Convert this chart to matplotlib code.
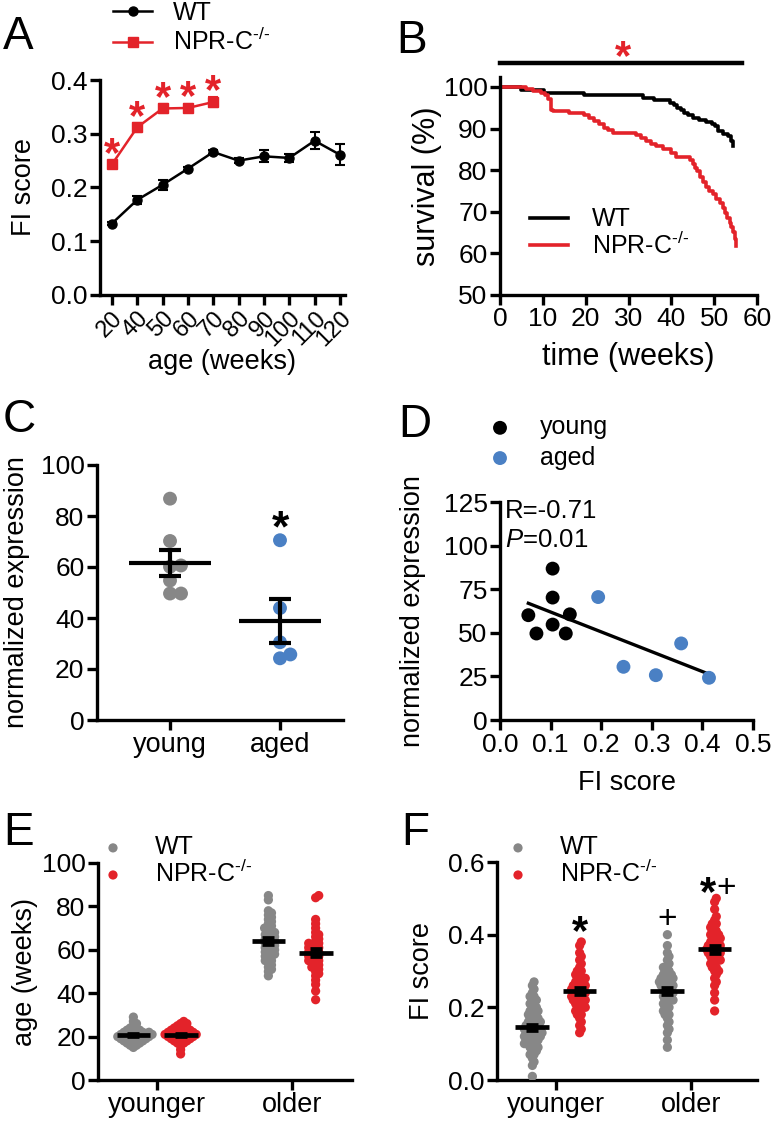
import numpy as np
import matplotlib.pyplot as plt

plt.rcParams['font.family'] = ['Liberation Sans', 'DejaVu Sans']
plt.rcParams['mathtext.fontset'] = 'custom'
plt.rcParams['mathtext.rm'] = 'Liberation Sans'
plt.rcParams['mathtext.it'] = 'Liberation Sans:italic'

RED = '#e3232a'
GRAY = '#878787'
BLUE = '#4a80c4'
KO = 'NPR-C$^{\u2010/\u2010}$'

# ---- panel A: FI score vs age
age_labels = ['20', '40', '50', '60', '70', '80', '90', '100', '110', '120']
wt_fi = [0.133, 0.177, 0.205, 0.235, 0.266, 0.250, 0.258, 0.255, 0.287, 0.261]
wt_fi_err = [0.003, 0.008, 0.009, 0.003, 0.003, 0.005, 0.011, 0.008, 0.016, 0.019]
ko_fi = [0.243, 0.312, 0.347, 0.348, 0.359]
ko_fi_err = [0.004, 0.008, 0.009, 0.007, 0.010]

# ---- panel B: survival curves (step times in weeks, survival %)
wt_t = [0, 4.8, 10.3, 19.7, 33.3, 36.0, 39.6, 40.6, 41.4, 42.2, 43.0, 44.0,
        45.0, 46.5, 48.0, 49.5, 50.3, 51.0, 52.0, 53.2, 54.0, 54.5]
wt_s = [100, 99.2, 98.6, 98.0, 97.4, 96.8, 96.2, 95.6, 95.0, 94.4, 93.8, 93.2,
        92.6, 92.0, 91.6, 91.2, 90.6, 89.5, 88.7, 88.2, 87.0, 85.7]
ko_t = [0, 6.0, 7.6, 9.5, 10.5, 11.3, 12.0, 12.4, 16.2, 19.7, 20.8, 22.0, 23.2,
        24.3, 25.3, 26.3, 31.8, 33.0, 34.2, 35.3, 36.5, 38.0, 40.0, 41.0, 44.3,
        45.0, 45.6, 46.0, 46.8, 47.5, 48.2, 48.9, 49.7, 50.5, 51.3, 52.0, 52.6,
        53.1, 53.6, 54.0, 54.4, 54.8, 55.0]
ko_s = [100, 99.5, 99.0, 98.5, 98.0, 97.2, 94.4, 94.2, 93.7, 93.3, 92.6, 91.8,
        91.0, 90.2, 89.6, 89.0, 88.5, 87.8, 87.0, 86.3, 85.8, 85.0, 84.2, 83.2,
        82.4, 81.5, 80.6, 79.8, 78.4, 77.1, 76.0, 75.0, 74.2, 73.0, 72.0, 71.0,
        69.8, 68.6, 67.4, 66.3, 65.2, 63.5, 61.8]

# ---- panels C and D: normalized expression
young_fi = [0.056, 0.072, 0.104, 0.104, 0.104, 0.130, 0.138]
young_expr = [60.1, 49.6, 86.8, 70.2, 54.7, 49.6, 60.6]
aged_fi = [0.194, 0.244, 0.308, 0.358, 0.413]
aged_expr = [70.5, 30.5, 25.7, 43.9, 24.2]

# ---- panel E: age (weeks)
e_young_wt = [15, 16, 16, 17, 17, 17, 18, 18, 18, 18, 19, 19, 19, 19, 19, 20, 20,
              20, 20, 20, 20, 21, 21, 21, 21, 21, 21, 22, 22, 22, 22, 22, 23, 23,
              23, 24, 24, 25, 26, 27, 29]
e_young_ko = [12, 14, 16, 17, 17, 18, 18, 18, 19, 19, 19, 19, 20, 20, 20, 20, 20,
              21, 21, 21, 21, 21, 21, 22, 22, 22, 22, 22, 23, 23, 23, 23, 24, 24,
              24, 25, 25, 26, 26, 27]
e_old_wt = [48, 50, 51, 52, 53, 54, 55, 55, 56, 57, 57, 58, 58, 59, 59, 60, 60, 61,
            61, 62, 62, 63, 63, 64, 64, 65, 65, 66, 66, 67, 67, 68, 68, 69, 70, 70,
            71, 72, 73, 74, 75, 76, 77, 78, 83, 85]
e_old_ko = [37, 41, 44, 46, 48, 49, 50, 51, 52, 52, 53, 54, 54, 55, 55, 56, 56, 57,
            57, 58, 58, 59, 59, 60, 60, 61, 61, 62, 62, 63, 63, 64, 65, 66, 67, 68,
            70, 72, 74, 84, 85]

# ---- panel F: FI score
f_young_wt = [0.01, 0.04, 0.05, 0.06, 0.07, 0.07, 0.08, 0.08, 0.09, 0.09, 0.09,
              0.10, 0.10, 0.10, 0.10, 0.11, 0.11, 0.11, 0.11, 0.12, 0.12, 0.12,
              0.12, 0.12, 0.13, 0.13, 0.13, 0.13, 0.13, 0.14, 0.14, 0.14, 0.14,
              0.14, 0.15, 0.15, 0.15, 0.15, 0.16, 0.16, 0.16, 0.16, 0.17, 0.17,
              0.17, 0.18, 0.18, 0.18, 0.19, 0.19, 0.19, 0.20, 0.20, 0.21, 0.21,
              0.22, 0.22, 0.23, 0.23, 0.24, 0.25, 0.26, 0.27]
f_young_ko = [0.13, 0.14, 0.15, 0.16, 0.17, 0.18, 0.18, 0.19, 0.19, 0.20, 0.20,
              0.20, 0.21, 0.21, 0.21, 0.22, 0.22, 0.22, 0.22, 0.23, 0.23, 0.23,
              0.23, 0.24, 0.24, 0.24, 0.24, 0.25, 0.25, 0.25, 0.25, 0.26, 0.26,
              0.26, 0.26, 0.27, 0.27, 0.27, 0.28, 0.28, 0.28, 0.29, 0.29, 0.30,
              0.30, 0.31, 0.32, 0.33, 0.34, 0.35, 0.37, 0.38]
f_old_wt = [0.09, 0.11, 0.13, 0.14, 0.15, 0.16, 0.17, 0.18, 0.18, 0.19, 0.19,
            0.20, 0.20, 0.21, 0.21, 0.22, 0.22, 0.22, 0.23, 0.23, 0.23, 0.24,
            0.24, 0.24, 0.25, 0.25, 0.25, 0.26, 0.26, 0.26, 0.26, 0.27, 0.27,
            0.27, 0.27, 0.28, 0.28, 0.28, 0.28, 0.29, 0.29, 0.29, 0.30, 0.30,
            0.31, 0.31, 0.32, 0.33, 0.34, 0.35, 0.37, 0.40]
f_old_ko = [0.19, 0.22, 0.24, 0.26, 0.27, 0.28, 0.29, 0.30, 0.30, 0.31, 0.31,
            0.32, 0.32, 0.33, 0.33, 0.33, 0.34, 0.34, 0.34, 0.35, 0.35, 0.35,
            0.35, 0.36, 0.36, 0.36, 0.36, 0.37, 0.37, 0.37, 0.37, 0.38, 0.38,
            0.38, 0.39, 0.39, 0.39, 0.40, 0.40, 0.40, 0.41, 0.41, 0.42, 0.42,
            0.43, 0.43, 0.44, 0.45, 0.47, 0.49, 0.50]

W, H = 776, 1121
TICK = 19
LAB = 19.5
LEG = 18
fig = plt.figure(figsize=(W / 100, H / 100), dpi=100)


def axes_px(left, top, right, bottom):
    ax = fig.add_axes([left / W, 1 - bottom / H, (right - left) / W, (bottom - top) / H])
    ax._px = (left, top, right, bottom)
    return ax


def style(ax):
    for s in ['top', 'right']:
        ax.spines[s].set_visible(False)
    for s in ['left', 'bottom']:
        ax.spines[s].set_linewidth(2.4)
    ax.tick_params(width=2.4, length=7, labelsize=TICK, pad=2, colors='black')


def ylab(ax, s, xpx, size=LAB):
    left, top, right, bottom = ax._px
    ax.set_ylabel(s, fontsize=size, va='center')
    ax.yaxis.set_label_coords((xpx - left) / (right - left), 0.5)


def xlab(ax, s, ypx, size=LAB):
    left, top, right, bottom = ax._px
    ax.set_xlabel(s, fontsize=size, va='center')
    ax.xaxis.set_label_coords(0.5, (bottom - ypx) / (bottom - top))


def letter(x, y, s):
    fig.text(x / W, 1 - y / H, s, fontsize=33, va='center', ha='left')


def mark(ax, x, y, s, size, color='black', bold=True, dx=0, glyph_mid=0.5):
    # put the glyph centre of s at (x, y)
    ax.annotate(s, (x, y), xytext=(dx, -glyph_mid * size), textcoords='offset points',
                ha='center', va='baseline', fontsize=size, color=color,
                fontweight='bold' if bold else 'normal', annotation_clip=False)


def swarm(ax, xc, vals, sep):
    # simple beeswarm, done in pixel space
    pos = ax.get_position()
    x0, x1 = ax.get_xlim()
    y0, y1 = ax.get_ylim()
    sx = pos.width * W / (x1 - x0)
    sy = pos.height * H / (y1 - y0)
    vals = np.asarray(vals, float)
    order = np.argsort(vals)
    placed = []
    offs = np.zeros(len(vals))
    for i in order:
        y = vals[i] * sy
        cands = [0.0]
        for (px, py) in placed:
            dy = abs(py - y)
            if dy < sep:
                dx = np.sqrt(sep ** 2 - dy ** 2)
                cands += [px + dx, px - dx]
        cands.sort(key=abs)
        for c in cands:
            if all((c - px) ** 2 + (y - py) ** 2 >= sep ** 2 - 1e-6 for px, py in placed):
                break
        placed.append((c, y))
        offs[i] = c
    return xc + offs / sx, vals


def mean_sem(ax, xc, vals, half, cap, lw=3):
    v = np.asarray(vals, float)
    m = v.mean()
    se = v.std(ddof=1) / np.sqrt(len(v))
    ax.plot([xc - half, xc + half], [m, m], color='black', lw=lw, zorder=5,
            solid_capstyle='butt')
    ax.errorbar(xc, m, yerr=se, color='black', lw=lw, capsize=cap, capthick=lw, zorder=5)


# ================= A
axA = axes_px(100, 80, 345, 295)
style(axA)
xa = np.arange(len(age_labels))
ebw = axA.errorbar(xa, wt_fi, yerr=wt_fi_err, color='black', marker='o', ms=6.5, lw=1.8,
                   capsize=3.5, capthick=1.5, elinewidth=1.5, clip_on=False)
xk = xa[:len(ko_fi)]
ebk = axA.errorbar(xk, ko_fi, yerr=ko_fi_err, color=RED, marker='s', ms=6.5, lw=1.8,
                   capsize=3.5, capthick=1.5, elinewidth=1.5, clip_on=False)
for x, y in zip(xk, ko_fi):
    mark(axA, x, y + 0.036, '*', 30, color=RED)
axA.set_xlim(-0.47, 9.2)
axA.set_ylim(0, 0.4)
axA.set_yticks([0.0, 0.1, 0.2, 0.3, 0.4])
axA.set_yticklabels(['0.0', '0.1', '0.2', '0.3', '0.4'])
axA.set_xticks(xa)
axA.set_xticklabels(age_labels, rotation=45, ha='right', va='top', rotation_mode='anchor',
                    fontsize=17)
ylab(axA, 'FI score', 24)
xlab(axA, 'age (weeks)', 362)
axA.legend([ebw[0], ebk[0]], ['WT', KO], loc='center left',
           bbox_to_anchor=(113 / W, 1 - 28 / H),
           bbox_transform=fig.transFigure, frameon=False, fontsize=LEG,
           handlelength=1.56, handletextpad=0.84, labelspacing=0.15, borderpad=0,
           borderaxespad=0)
letter(3, 37, 'A')

# ================= B
axB = axes_px(500, 77, 757, 295)
style(axB)
axB.step(wt_t, wt_s, where='post', color='black', lw=2.6, label='WT')
axB.step(ko_t, ko_s, where='post', color=RED, lw=2.6, label=KO)
axB.set_xlim(0, 60)
axB.set_ylim(50, 102.4)
axB.set_xticks(range(0, 61, 10))
axB.set_yticks(range(50, 101, 10))
ylab(axB, 'survival (%)', 427, 22)
xlab(axB, 'time (weeks)', 357, 22)
axB.plot([0, 56.5], [105.8, 105.8], color='black', lw=3.2, clip_on=False)
mark(axB, 28.7, 109.3, '*', 30, color=RED)
axB.legend(loc='center left', bbox_to_anchor=(530 / W, 1 - 233 / H),
           bbox_transform=fig.transFigure, frameon=False, fontsize=LEG,
           handlelength=1.52, handletextpad=0.96, labelspacing=0.0, borderpad=0,
           borderaxespad=0)
letter(396, 41, 'B')

# ================= C
axC = axes_px(97, 465, 343, 720)
style(axC)
axC.set_xlim(-0.664, 1.573)
axC.set_ylim(0, 100)
xs, ys = swarm(axC, 0, young_expr, 11)
axC.scatter(xs, ys, s=100, color=GRAY, edgecolors='none', zorder=3)
xs, ys = swarm(axC, 1, aged_expr, 11)
axC.scatter(xs, ys, s=100, color=BLUE, edgecolors='none', zorder=3)
mean_sem(axC, 0, young_expr, 0.37, 8)
mean_sem(axC, 1, aged_expr, 0.37, 8)
mark(axC, 1, 78.8, '*', 32)
axC.set_xticks([0, 1])
axC.set_xticklabels(['young', 'aged'], fontsize=LAB)
axC.set_yticks(range(0, 101, 20))
ylab(axC, 'normalized expression', 17)
letter(3, 420, 'C')

# ================= D
axD = axes_px(500, 502, 753, 720)
style(axD)
axD.scatter(young_fi, young_expr, s=100, color='black', edgecolors='none',
            label='young', zorder=3)
axD.scatter(aged_fi, aged_expr, s=100, color=BLUE, edgecolors='none',
            label='aged', zorder=3)
allx = np.array(young_fi + aged_fi)
ally = np.array(young_expr + aged_expr)
k, b = np.polyfit(allx, ally, 1)
xl = np.array([allx.min(), allx.max()])
axD.plot(xl, k * xl + b, color='black', lw=2.4, zorder=2)
axD.set_xlim(0, 0.5)
axD.set_ylim(0, 125)
axD.set_xticks([0.0, 0.1, 0.2, 0.3, 0.4, 0.5])
axD.set_xticklabels(['0.0', '0.1', '0.2', '0.3', '0.4', '0.5'])
axD.set_yticks(range(0, 126, 25))
ylab(axD, 'normalized expression', 413)
xlab(axD, 'FI score', 783)
axD.text(0.01, 120, 'R=-0.71', fontsize=18.5, va='center', ha='left')
axD.text(0.01, 103, '$P$=0.01', fontsize=18.5, va='center', ha='left')
axD.legend(loc='center left', bbox_to_anchor=(487.5 / W, 1 - 442.5 / H),
           bbox_transform=fig.transFigure, frameon=False, fontsize=LEG,
           handlelength=1.0, handletextpad=1.1, labelspacing=0.25, borderpad=0,
           borderaxespad=0)
letter(398, 425, 'D')

# ================= E and F (dot plots)
OFF = 0.175
panels = {}
for (lt, ax_box, groups, ylim, yt, ylabel, ylx, lpos, sep) in [
    ('E', (98, 863, 352, 1080), (e_young_wt, e_young_ko, e_old_wt, e_old_ko), (0, 100),
     range(0, 101, 20), 'age (weeks)', 25, (100.5, 861), 3.8),
    ('F', (497, 862, 757, 1080), (f_young_wt, f_young_ko, f_old_wt, f_old_ko), (0, 0.6),
     [0.0, 0.2, 0.4, 0.6], 'FI score', 422, (505.5, 861), 4.0),
]:
    ax = axes_px(*ax_box)
    style(ax)
    left, top, right, bottom = ax_box
    ax.set_xlim(-59 / 135, (right - left - 59) / 135)
    ax.set_ylim(*ylim)
    cols = [GRAY, RED, GRAY, RED]
    centers = [0 - OFF, 0 + OFF, 1 - OFF, 1 + OFF]
    for vals, c, xc, lab in zip(groups, cols, centers, ['WT', KO, None, None]):
        xs, ys = swarm(ax, xc, vals, sep)
        ax.scatter(xs, ys, s=44, color=c, edgecolors='none', zorder=3,
                   label=lab if lab else '_nolegend_')
        mean_sem(ax, xc, vals, 0.125, 4, lw=3.4)
    ax.set_xticks([0, 1])
    ax.set_xticklabels(['younger', 'older'], fontsize=LAB)
    ax.set_yticks(list(yt))
    if lt == 'F':
        ax.set_yticklabels(['0.0', '0.2', '0.4', '0.6'])
    ylab(ax, ylabel, ylx)
    ax.legend(loc='center left', bbox_to_anchor=(lpos[0] / W, 1 - lpos[1] / H),
              bbox_transform=fig.transFigure, frameon=False, fontsize=LEG,
              handlelength=1.0, handletextpad=1.18, labelspacing=0.0, borderpad=0,
              borderaxespad=0, scatterpoints=1)
    letter(3 if lt == 'E' else 401, 833, lt)
    panels[lt] = ax

axF = panels['F']
mark(axF, 0 + OFF, 0.432, '*', 30)
mark(axF, 1 - OFF, 0.449, '+', 24, bold=False, glyph_mid=0.34)
mark(axF, 1 + OFF, 0.540, '*', 30, dx=-5)
mark(axF, 1 + OFF, 0.534, '+', 24, bold=False, glyph_mid=0.34, dx=8)

fig.savefig('out.png', dpi=100)
